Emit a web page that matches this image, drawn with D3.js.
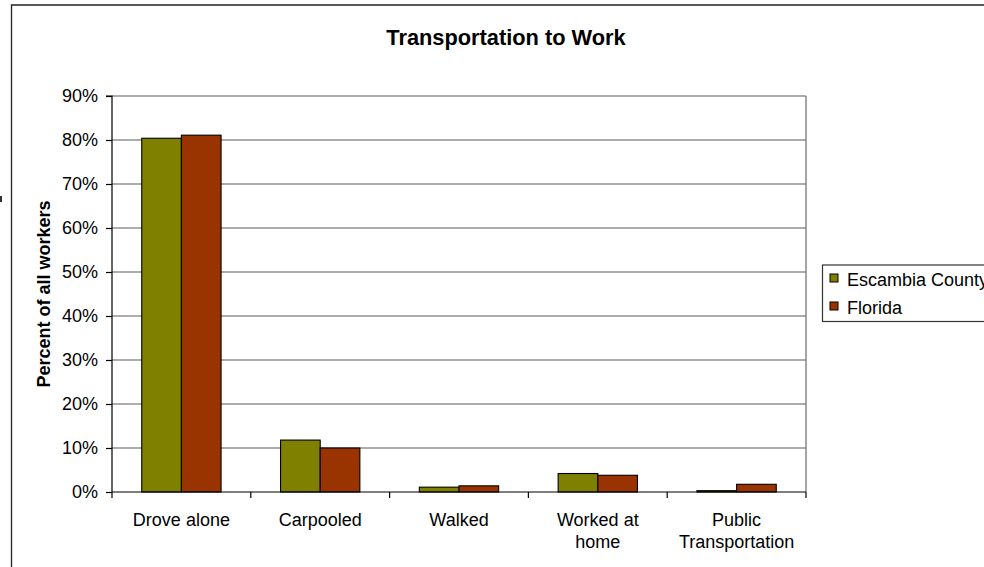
<!DOCTYPE html>
<html>
<head>
<meta charset="utf-8">
<script src="https://cdn.jsdelivr.net/npm/d3@7/dist/d3.min.js"></script>
<style>
  html, body { margin: 0; padding: 0; background: #fff; }
  svg { display: block; font-family: Arial, "Liberation Sans", sans-serif; }
</style>
</head>
<body>
<svg id="chart" width="984" height="567"></svg>
<script>
// Commute mode shares (fraction of all workers)
const categories = ["Drove alone", "Carpooled", "Walked", "Worked at home", "Public Transportation"];
const seriesNames = ["Escambia County", "Florida"];
const escambiaValues = [0.804, 0.118, 0.011, 0.042, 0.003];
const floridaValues = [0.811, 0.100, 0.014, 0.038, 0.0175];
const yTicks = [0, 0.1, 0.2, 0.3, 0.4, 0.5, 0.6, 0.7, 0.8, 0.9];
const colors = ["#808000", "#993300"];

const seriesValues = [escambiaValues, floridaValues];
const rows = categories.map((c, i) => ({
  category: c,
  values: seriesNames.map((s, j) => ({ series: s, value: seriesValues[j][i], color: colors[j] }))
}));

const svg = d3.select("#chart");
const plot = { left: 112, right: 806, top: 96, bottom: 492 };

// Outer chart frame (extends past the right edge of the canvas)
svg.append("path")
  .attr("d", "M11.5,567 V5 H990")
  .attr("fill", "none")
  .attr("stroke", "#222")
  .attr("stroke-width", 1.3);

svg.append("rect")
  .attr("x", 0).attr("y", 196).attr("width", 2).attr("height", 6)
  .attr("fill", "#333");

const x0 = d3.scaleBand().domain(categories).range([plot.left, plot.right]).padding(0);
const x1 = d3.scaleBand().domain(seriesNames).range([0, x0.bandwidth()]).paddingInner(0).paddingOuter(0.75);
const y = d3.scaleLinear().domain([0, 0.9]).range([plot.bottom, plot.top]);

// Title
svg.append("text")
  .attr("x", 506).attr("y", 45)
  .attr("text-anchor", "middle")
  .attr("font-size", 21.8).attr("font-weight", "bold")
  .text("Transportation to Work");

// Horizontal gridlines
svg.append("g")
  .selectAll("line")
  .data(yTicks.filter(t => t > 0))
  .join("line")
  .attr("x1", plot.left).attr("x2", plot.right)
  .attr("y1", d => y(d)).attr("y2", d => y(d))
  .attr("stroke", "#5a5a5a").attr("stroke-width", 1.2);

// Right border of the plot area
svg.append("line")
  .attr("x1", plot.right).attr("x2", plot.right)
  .attr("y1", plot.top).attr("y2", plot.bottom)
  .attr("stroke", "#808080").attr("stroke-width", 1.4);

// Bars
const groups = svg.append("g")
  .selectAll("g")
  .data(rows)
  .join("g")
  .attr("transform", d => `translate(${x0(d.category)},0)`);

groups.selectAll("rect")
  .data(d => d.values)
  .join("rect")
  .attr("x", d => x1(d.series))
  .attr("y", d => y(d.value))
  .attr("width", x1.bandwidth())
  .attr("height", d => y(0) - y(d.value))
  .attr("fill", d => d.color)
  .attr("stroke", "#000")
  .attr("stroke-width", 1.1);

// Y axis
const yAxis = d3.axisLeft(y)
  .tickValues(yTicks)
  .tickFormat(d3.format(".0%"))
  .tickSize(6)
  .tickPadding(8);

const gy = svg.append("g")
  .attr("transform", `translate(${plot.left},0)`)
  .call(yAxis);
gy.select(".domain").attr("stroke", "#000").attr("stroke-width", 1.2).attr("d", `M-6,${plot.top}H0V${plot.bottom}`);
gy.selectAll(".tick line").attr("stroke", "#000").attr("stroke-width", 1.2);
gy.selectAll(".tick text")
  .attr("font-size", 18)
  .attr("font-family", "Arial, 'Liberation Sans', sans-serif")
  .attr("fill", "#000");

// X axis: tick marks at category boundaries
const boundaries = categories.map(c => x0(c)).concat([plot.right]);
svg.append("line")
  .attr("x1", plot.left).attr("x2", plot.right)
  .attr("y1", plot.bottom).attr("y2", plot.bottom)
  .attr("stroke", "#000").attr("stroke-width", 1.2);
svg.append("g")
  .selectAll("line")
  .data(boundaries)
  .join("line")
  .attr("x1", d => d).attr("x2", d => d)
  .attr("y1", plot.bottom).attr("y2", plot.bottom + 6)
  .attr("stroke", "#000").attr("stroke-width", 1.2);

// Category labels, wrapped to fit the band
const xLabels = svg.append("g")
  .selectAll("text")
  .data(categories)
  .join("text")
  .attr("x", d => x0(d) + x0.bandwidth() / 2)
  .attr("y", 526)
  .attr("text-anchor", "middle")
  .attr("font-size", 18)
  .attr("fill", "#000");

xLabels.each(function(d) {
  const t = d3.select(this);
  const words = d.split(" ");
  const lines = [];
  let line = [];
  const probe = t.append("tspan");
  words.forEach(w => {
    const trial = line.concat([w]).join(" ");
    probe.text(trial);
    if (probe.node().getComputedTextLength() > 112 && line.length) {
      lines.push(line.join(" "));
      line = [w];
    } else {
      line.push(w);
    }
  });
  lines.push(line.join(" "));
  probe.remove();
  lines.forEach((l, i) => {
    t.append("tspan")
      .attr("x", x0(d) + x0.bandwidth() / 2)
      .attr("dy", i === 0 ? 0 : 21.5)
      .text(l);
  });
});

// Y axis title
svg.append("text")
  .attr("transform", `translate(50,${(plot.top + plot.bottom) / 2}) rotate(-90)`)
  .attr("text-anchor", "middle")
  .attr("font-size", 18).attr("font-weight", "bold")
  .text("Percent of all workers");

// Legend
const legend = svg.append("g");
legend.append("rect")
  .attr("x", 822.5).attr("y", 265)
  .attr("width", 200).attr("height", 56.5)
  .attr("fill", "#fff")
  .attr("stroke", "#333").attr("stroke-width", 1.2);

const items = legend.selectAll("g.item")
  .data(seriesNames)
  .join("g")
  .attr("class", "item")
  .attr("transform", (d, i) => `translate(0,${i * 28})`);

items.append("rect")
  .attr("x", 830).attr("y", 274)
  .attr("width", 8).attr("height", 8)
  .attr("fill", (d, i) => colors[i])
  .attr("stroke", "#000").attr("stroke-width", 1);

items.append("text")
  .attr("x", 847).attr("y", 286)
  .attr("font-size", 18)
  .attr("fill", "#000")
  .text(d => d);
</script>
</body>
</html>
